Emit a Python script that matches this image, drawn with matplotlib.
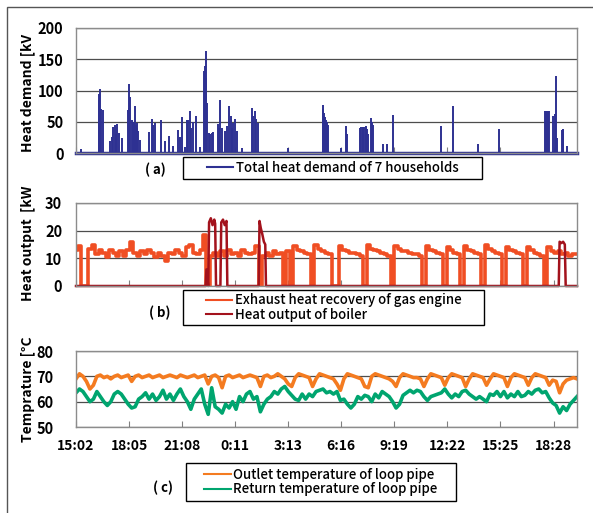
import numpy as np
import matplotlib.pyplot as plt
from matplotlib.lines import Line2D
from matplotlib.patches import Rectangle

plt.rcParams['font.family'] = ['Noto Sans CJK JP', 'DejaVu Sans']

# x axis: hours elapsed since 15:02 on day 1
tick_hours = [0, 3.05, 6.1, 9.15, 12.2, 15.25, 18.3, 21.35, 24.4, 27.45]
tick_labels = ['15:02', '18:05', '21:08', '0:11', '3:13', '6:16', '9:19', '12:22', '15:25', '18:28']
x_end = 28.8

# (a) total heat demand spikes [kW]
demand_t = [0.27,
            1.30, 1.35, 1.38, 1.45, 1.53,
            1.95, 2.05, 2.15, 2.24, 2.31, 2.38, 2.49, 2.63,
            2.97, 3.02, 3.07, 3.12, 3.20, 3.25, 3.30, 3.35, 3.39, 3.44, 3.49, 3.53, 3.58, 3.68,
            4.20, 4.39, 4.45, 4.54, 4.89, 5.12, 5.35, 5.60,
            5.88, 5.95, 6.08, 6.27, 6.36, 6.46, 6.55, 6.62, 6.71, 6.88, 7.13,
            7.38, 7.42, 7.45, 7.50, 7.55, 7.66, 7.72, 7.80, 7.90,
            8.18, 8.23, 8.28, 8.38, 8.55, 8.66, 8.80, 8.89, 8.96, 9.04, 9.14, 9.27, 9.53,
            10.14, 10.20, 10.29, 10.36, 10.45,
            12.17,
            14.18, 14.22, 14.28, 14.33, 14.37, 14.42, 14.47,
            15.24, 15.50, 15.60,
            16.33, 16.40, 16.47, 16.52, 16.60, 16.67, 16.74, 16.81, 16.96, 17.01, 17.06,
            17.63, 17.86, 18.21,
            20.97, 21.66, 23.13, 24.34,
            26.96, 27.01, 27.06, 27.12, 27.17,
            27.44, 27.51, 27.58, 27.64,
            27.92, 27.97, 28.01, 28.21]
demand_kw = [6,
             85, 95, 102, 70, 69,
             19, 25, 42, 45, 30, 46, 32, 24,
             69, 72, 111, 90, 53, 40, 48, 50, 76, 45, 48, 40, 35, 21,
             33, 55, 45, 48, 53, 20, 27, 11,
             37, 25, 57, 10, 53, 53, 68, 40, 50, 60, 10,
             131, 140, 164, 120, 80, 32, 30, 32, 33,
             47, 40, 85, 40, 35, 44, 76, 59, 40, 48, 55, 35, 8,
             72, 60, 68, 55, 48,
             8,
             77, 70, 64, 58, 53, 50, 45,
             8, 43, 30,
             40, 41, 42, 41, 42, 43, 38, 30, 56, 50, 45,
             15, 15, 61,
             44, 76, 15, 39,
             67, 68, 68, 68, 68,
             59, 62, 123, 24,
             37, 38, 38, 11]

# sampling grid of the logged series (every 0.2 h)
log_t = np.arange(145) * 0.2

# (b) exhaust heat recovery of gas engine [kW]
engine_kw = [13, 14.5, 0, 0, 13.5, 15, 11.5, 13, 12, 10.5,
             13, 12, 11, 12.5, 11, 13, 16, 12, 11, 12.5,
             11.5, 13, 12, 10.5, 12, 11, 9, 12, 11.5, 13,
             12, 11, 14, 15, 12, 11.5, 13, 18.5, 0, 11,
             12, 11, 12.5, 11, 13, 11.5, 12, 11, 13, 12,
             11.5, 12, 14.5, 0, 11, 12, 11, 12.5, 11.5, 12,
             0, 12.5, 0, 14.5, 13, 12.5, 12, 11.5, 0, 15,
             13.5, 12.5, 12, 11.5, 0, 0, 14.5, 13, 12.5, 12,
             12, 11.5, 11, 0, 15, 13.5, 13, 12.5, 12, 11.5,
             11, 0, 14.5, 13.5, 12.5, 12.5, 12, 11.5, 11.5, 11,
             0, 14.5, 13, 12.5, 12, 11.5, 0, 14, 13, 12,
             11.5, 0, 14.5, 13, 12.5, 12, 11.5, 0, 15, 13.5,
             12.5, 12, 11.5, 0, 14, 13, 12.5, 12, 11.5, 0,
             14, 13, 12, 11.5, 11, 0, 14, 12.5, 12, 12.5,
             11.5, 12, 11, 11.5, 11.5]

# (b) heat output of boiler [kW]
boiler_t = [0, 7.45, 7.5, 7.6, 7.65, 7.75, 7.85, 7.95, 8.0, 8.05,
            8.3, 8.35, 8.45, 8.55, 8.65, 8.7,
            10.5, 10.55, 10.62, 10.7, 10.8, 10.88, 10.92,
            27.75, 27.8, 27.9, 28.0, 28.1, 28.15, 28.8]
boiler_kw = [0, 0, 6, 0, 23, 24.5, 22, 24, 22.5, 0,
             0, 23, 24, 22, 23.5, 0,
             0, 23.5, 21, 19, 16, 15, 0,
             0, 16, 15.5, 16, 15, 0, 0]

# (c) loop pipe temperatures [degC]
outlet_c = [69, 71, 70, 68, 65, 66.5, 70, 70.5, 69.5, 70,
            69, 70, 70.5, 69.5, 70, 70.5, 68, 70, 70.5, 69.5,
            70, 70.5, 69.5, 70, 70.5, 69.5, 70, 70.5, 70, 69.5,
            70.5, 70, 69.5, 70, 70.5, 69.5, 70, 70.5, 67, 70,
            70.5, 69.5, 65.5, 70, 70.5, 69.5, 70, 70.5, 69.5, 70,
            70.5, 70, 69.5, 66, 70, 70.5, 69.5, 70, 71, 70,
            69, 67, 66, 69.5, 71, 70.5, 70, 69.5, 66, 69,
            71, 70.5, 70, 69.5, 69, 67, 64.5, 69, 71, 70.5,
            70, 69.5, 69, 66, 65.5, 70, 71, 70.5, 70, 69.5,
            69, 68, 66, 69.5, 71, 70.5, 70, 69.5, 69.5, 69,
            66, 69, 71, 70.5, 70, 69.5, 66.5, 69.5, 71, 70.5,
            70, 69.5, 66, 69, 71, 70.5, 70, 69.5, 66.5, 69,
            71, 70.5, 70, 69.5, 66, 69.5, 71, 70.5, 70, 69.5,
            66.5, 69.5, 71, 70.5, 70, 69.5, 66.5, 68.5, 68, 63.5,
            67, 68.5, 69, 69.5, 69]
return_c = [63.5, 65, 64, 62, 60, 61, 64, 62, 60, 58.5,
            60, 63, 64, 63, 61, 59, 57.5, 58, 61, 62,
            63.5, 61, 63, 60.5, 62, 64.5, 61, 63, 60.5, 63,
            65, 62, 60, 57, 61, 63, 65, 59, 55, 65.5,
            58, 57, 55.5, 59, 57.5, 60, 57, 62, 60, 63,
            64, 61, 62, 56, 59, 61, 62, 64, 63, 65,
            66, 64, 62.5, 61, 60.5, 63, 61, 63, 62, 64,
            64.5, 65, 63.5, 64, 63, 64, 60.5, 61, 59, 57.5,
            59, 62, 61, 62.5, 62, 60, 63, 61.5, 64, 63,
            62, 60, 57.5, 59, 62.5, 63.5, 64.5, 63.5, 64.5, 64,
            62, 60.5, 62, 62.5, 63, 63.5, 65, 63, 61.5, 63,
            62, 64, 64.5, 63, 62, 61, 62, 61, 60, 63,
            62.5, 64, 62, 64, 61.5, 63, 62, 64, 62, 62.5,
            64, 63, 64.5, 65, 63.5, 64, 61.5, 59.5, 58.5, 55.5,
            58, 56.5, 59, 60.5, 62]

navy = '#2e3192'
engine_col = '#f04e23'
boiler_col = '#a3121c'
outlet_col = '#f47b20'
return_col = '#00a56f'

W, H = 593, 513
fig = plt.figure(figsize=(W / 100, H / 100), dpi=100)


def px_axes(left, top, right, bottom):
    return fig.add_axes([left / W, 1 - bottom / H, (right - left) / W, (bottom - top) / H])


def style_axes(ax, ylim, yticks, ypad, show_xlabels=False):
    ax.set_xlim(0, x_end)
    ax.set_ylim(*ylim)
    ax.set_yticks(yticks)
    ax.set_xticks(tick_hours)
    if show_xlabels:
        ax.set_xticklabels(tick_labels, fontsize=10, fontweight='bold')
    else:
        ax.set_xticklabels([])
    ax.tick_params(axis='x', direction='in', length=4, color='#808080', pad=9)
    ax.tick_params(axis='y', length=0, pad=ypad, labelsize=10.5)
    for lab in ax.get_yticklabels():
        lab.set_fontweight('bold')
    for s in ax.spines.values():
        s.set_color('#8c8c8c')
        s.set_linewidth(1)
    ax.grid(axis='y', color='#4d4d4d', linewidth=0.9)
    ax.set_axisbelow(True)


def legend_box(left, top, right, bottom, handles, labels):
    fig.add_artist(Rectangle((left / W, 1 - bottom / H), (right - left) / W, (bottom - top) / H,
                             transform=fig.transFigure, fill=False, ec='black', lw=1))
    fig.legend(handles, labels, loc='center',
               bbox_to_anchor=((left + right) / 2 / W, 1 - (top + bottom) / 2 / H),
               frameon=False, handlelength=2.0, handletextpad=0.2,
               labelspacing=0.05, borderpad=0,
               prop={'size': 9.5, 'weight': 'medium'})


def ylabel(text, y):
    fig.text(28 / W, 1 - y / H, text, rotation=90, ha='center', va='center',
             fontsize=10, fontweight='bold')


# outer frame of the figure
fig.add_artist(Rectangle((7 / W, -0.1), 1.2, 1.1 - 7 / H, transform=fig.transFigure,
                         fill=False, ec='#555555', lw=1))

# (a) heat demand
ax1 = px_axes(76, 28, 577, 153)
ax1.vlines(demand_t, 0, demand_kw, color=navy, linewidth=1.4)
ax1.plot([0, x_end], [0, 0], color=navy, linewidth=2.5, clip_on=False)
style_axes(ax1, (0, 200), [0, 50, 100, 150, 200], 9)
ylabel('Heat demand [kV', 93)
fig.text(155 / W, 1 - 170 / H, '( a)', ha='center', va='center', fontsize=9.5, fontweight='bold')
legend_box(183, 157, 482, 179, [Line2D([], [], color=navy, lw=1.5)],
           ['Total heat demand of 7 households'])

# (b) heat output
ax2 = px_axes(76, 203, 577, 286)
ax2.plot(log_t, engine_kw, color=engine_col, linewidth=2.6, drawstyle='steps-mid')
ax2.plot(boiler_t, boiler_kw, color=boiler_col, linewidth=1.8, clip_on=False)
style_axes(ax2, (0, 30), [0, 10, 20, 30], 10)
ylabel('Heat output  [kW', 243)
fig.text(160 / W, 1 - 313 / H, '( b)', ha='center', va='center', fontsize=9.5, fontweight='bold')
legend_box(183, 290, 484, 325,
           [Line2D([], [], color=engine_col, lw=1.5), Line2D([], [], color=boiler_col, lw=1.5)],
           ['Exhaust heat recovery of gas engine', 'Heat output of boiler'])

# (c) temperature
ax3 = px_axes(76, 351, 577, 427)
ax3.plot(log_t, outlet_c, color=outlet_col, linewidth=2.6)
ax3.plot(log_t, return_c, color=return_col, linewidth=2.6)
style_axes(ax3, (50, 80), [50, 60, 70, 80], 16, show_xlabels=True)
ylabel('Temprature [°C', 389)
fig.text(163 / W, 1 - 488 / H, '( c)', ha='center', va='center', fontsize=9.5, fontweight='bold')
legend_box(186, 463, 456, 501,
           [Line2D([], [], color=outlet_col, lw=1.5), Line2D([], [], color=return_col, lw=1.5)],
           ['Outlet temperature of loop pipe', 'Return temperature of loop pipe'])

fig.savefig('out.png', dpi=100)
